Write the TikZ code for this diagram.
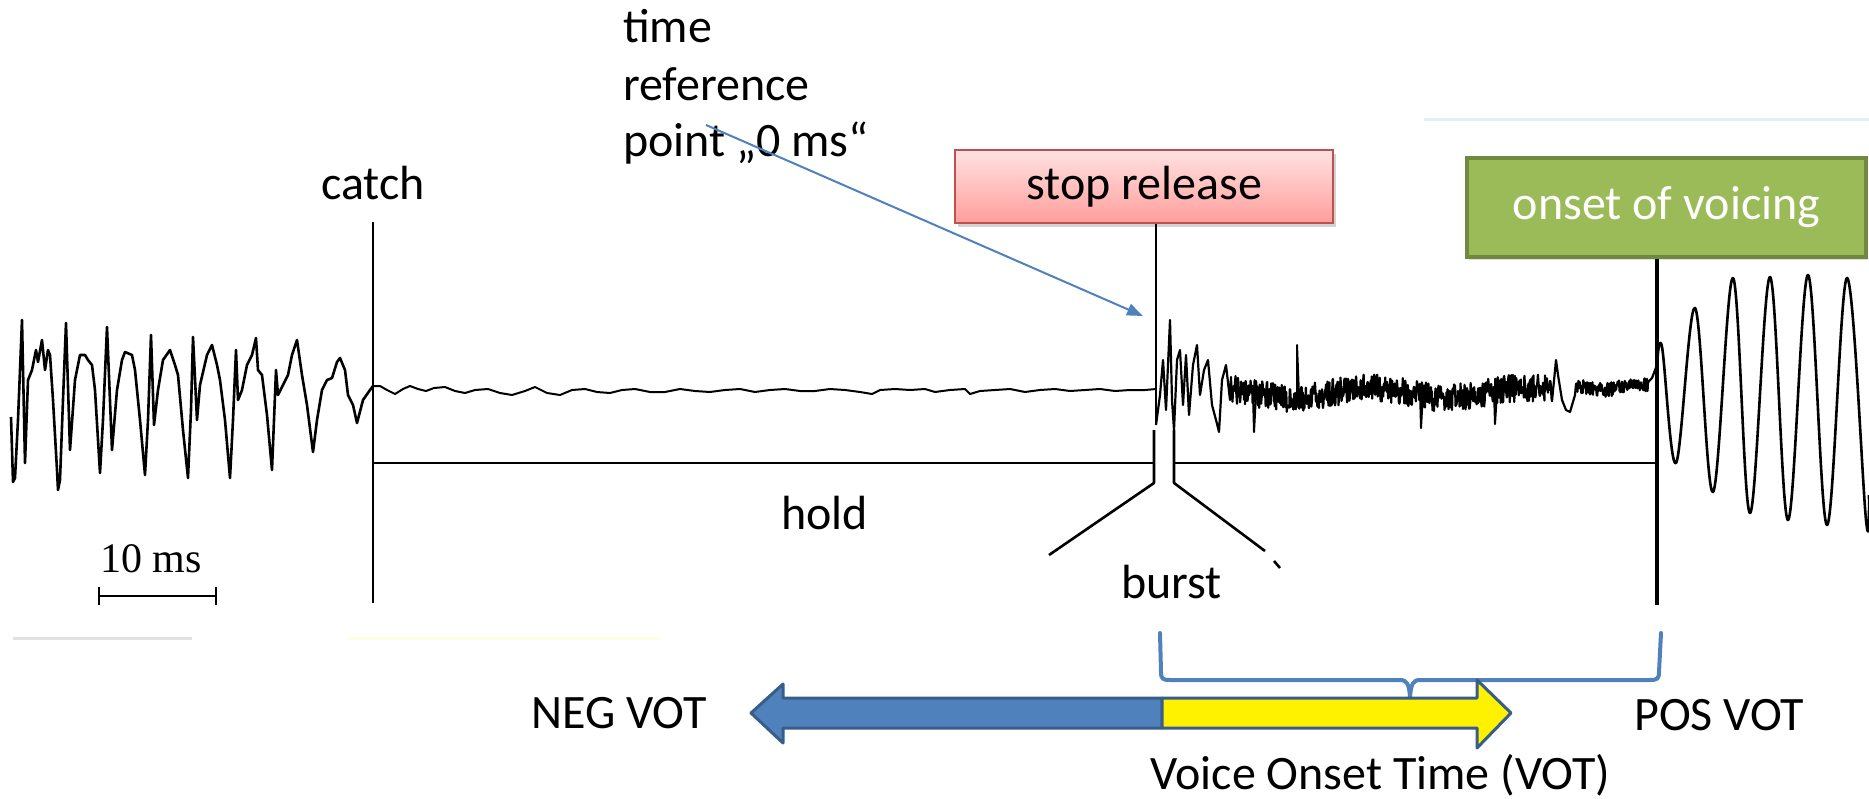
\documentclass[tikz,border=0pt]{standalone}
\usepackage{fontspec}
\setmainfont{Carlito}
\newfontfamily\tmsfont{Liberation Serif}
\usetikzlibrary{arrows.meta,shadows}
\definecolor{accblue}{RGB}{79,129,189}
\definecolor{accbluedark}{RGB}{56,93,138}
\definecolor{accred}{RGB}{192,80,77}
\definecolor{pinktop}{RGB}{255,226,225}
\definecolor{pinkbot}{RGB}{255,158,156}
\definecolor{accgreen}{RGB}{155,187,89}
\definecolor{accgreendark}{RGB}{113,137,63}
\definecolor{faintblue}{RGB}{225,240,248}
\definecolor{faintgray}{RGB}{225,225,225}
\begin{document}
\begin{tikzpicture}[x=1pt,y=-1pt,
  lbl/.style={font=\fontsize{48}{58}\selectfont, inner sep=0pt},
  wave/.style={line width=2.6pt, line join=round, black},
  markline/.style={line width=2.6pt, black},
  callout/.style={draw=accblue, line width=2pt, -{Triangle[length=16pt,width=12pt]}},
  brace/.style={draw=accblue, line width=4pt, line cap=round},
  arrowshape/.style={draw=accbluedark, line width=3pt, line join=round},
  redbox/.style={draw=accred, line width=2pt, top color=pinktop, bottom color=pinkbot,
    minimum width=378pt, minimum height=73pt, inner sep=0pt,
    font=\fontsize{48}{58}\selectfont,
    drop shadow={shadow xshift=3pt, shadow yshift=-4pt, opacity=0.35}},
  greenbox/.style={draw=accgreendark, line width=4pt, fill=accgreen, text=white,
    minimum width=399pt, minimum height=99pt, inner sep=0pt,
    font=\fontsize{48}{58}\selectfont,
    drop shadow={shadow xshift=2pt, shadow yshift=-3pt, opacity=0.25}}]
\useasboundingbox (0,0) rectangle (1869,798);

% faint scan remnants
\draw[faintblue, line width=3pt] (1424,119) -- (1869,119);
\draw[faintgray, line width=3pt] (13,638) -- (192,638);
\draw[yellow!12, line width=3pt] (348,638) -- (660,638);

% boxes
\node[redbox] (release) at (1144,186.5) {stop release};
\node[greenbox] (onset) at (1666.5,207.5) {onset of voicing};

% time reference label
\node[lbl, anchor=base west] (treftime) at (623,42) {time};
\node[lbl, anchor=base west] (trefref) at (623,100) {reference};
\node[lbl, anchor=base west] (trefpoint) at (623,156) {point „0 ms“};

% labels
\node[lbl, anchor=base west] (catch) at (321,199) {catch};
\node[lbl, anchor=base west] (hold) at (781,529) {hold};
\node[lbl, anchor=base west] (burst) at (1121,598) {burst};
\node[lbl, anchor=base west] (neg) at (531,728) {NEG VOT};
\node[lbl, anchor=base west] (pos) at (1634,730) {POS VOT};
\node[lbl, anchor=base west] (vot) at (1150,789) {Voice Onset Time (VOT)};
\node[font=\tmsfont\fontsize{42}{50}\selectfont, inner sep=0pt, anchor=base west] (scale) at (100,572) {10 ms};

% coordinates
\coordinate (catchtop) at (373,222);
\coordinate (catchbot) at (373,603);
\coordinate (relbot) at (1156,425);
\coordinate (onsetbot) at (1657,605);
\coordinate (holdL) at (373,463);
\coordinate (burstL) at (1154,463);
\coordinate (burstR) at (1174,463);
\coordinate (holdR) at (1657,463);
\coordinate (arrstart) at (706,125);
\coordinate (zeroms) at (1143,316);
\coordinate (scaleL) at (99,596);
\coordinate (scaleR) at (216,596);

% marker lines
\draw[markline] (catchtop) -- (catchbot);
\draw[markline] (release.south -| relbot) -- (relbot);
\draw[markline, line width=3.6pt] (onset.south -| onsetbot) -- (onsetbot);
\draw[markline] (holdL) -- (burstL);
\draw[markline] (burstR) -- (holdR);
\draw[markline, line join=round] (1154,430) -- (1154,483) -- (1049,555);
\draw[markline, line join=round] (1174,430) -- (1174,483) -- (1265,551);
\draw[markline] (1274,561) -- (1280,568);

% scale bar
\draw[markline] (scaleL) -- (scaleR);
\draw[markline] (99,587) -- (99,605);
\draw[markline] (216,587) -- (216,605);

% speech waveform before catch
\draw[wave] (11,417) -- (13,482) -- (15,478) -- (18,420) -- (22,320) -- (25,463) -- (28,380) -- (32,370) -- (36,350) -- (38,362) -- (42,340) -- (45,370) -- (48,350) -- (50,355) -- (53,400) -- (57,470) -- (58,490) -- (60,480) -- (63,400) -- (66,323) -- (70,450) -- (75,380) -- (80,355) -- (85,355) -- (88,360) -- (92,365) -- (95,390) -- (100,473) -- (103,420) -- (107,327) -- (112,450) -- (117,390) -- (122,360) -- (125,352) -- (132,355) -- (135,370) -- (140,420) -- (145,475) -- (148,420) -- (151,335) -- (154,425) -- (158,390) -- (163,360) -- (170,350) -- (175,365) -- (178,375) -- (183,430) -- (188,478) -- (191,410) -- (193,337) -- (197,420) -- (200,385) -- (207,355) -- (212,345) -- (217,365) -- (220,380) -- (225,420) -- (230,478) -- (233,420) -- (236,350) -- (238,400) -- (242,390) -- (247,365) -- (252,355) -- (256,338) -- (258,370) -- (262,375) -- (267,415) -- (272,470) -- (274,420) -- (276,370) -- (278,395) -- (283,385) -- (288,375) -- (292,355) -- (297,340) -- (302,375) -- (307,405) -- (313,452) -- (317,420) -- (322,390) -- (327,380) -- (332,378) -- (337,362) -- (340,358) -- (345,370) -- (348,395) -- (353,405) -- (357,423) -- (363,400) -- (370,390) -- (373,386);

% quiet hold segment
\draw[wave, line width=2pt] (373,386) -- (380,386) -- (387,390) -- (395,394) -- (403,389) -- (410,386) -- (418,389) -- (426,391) -- (434,388) -- (445,387) -- (455,391) -- (465,393) -- (475,390) -- (488,389) -- (500,393) -- (512,395) -- (525,391) -- (535,387) -- (547,393) -- (560,395) -- (572,390) -- (585,389) -- (597,392) -- (610,393) -- (622,390) -- (635,389) -- (650,392) -- (665,392) -- (680,389) -- (695,391) -- (710,392) -- (725,390) -- (740,389) -- (755,392) -- (770,390) -- (785,389) -- (800,391) -- (815,391) -- (830,389) -- (845,390) -- (860,392) -- (872,394) -- (880,390) -- (895,389) -- (910,390) -- (925,389) -- (935,392) -- (950,390) -- (965,389) -- (970,394) -- (980,391) -- (995,390) -- (1010,389) -- (1025,392) -- (1040,390) -- (1055,389) -- (1070,391) -- (1085,390) -- (1100,389) -- (1115,391) -- (1130,390) -- (1145,390) -- (1156,389);

% burst and aspiration noise
\pgfmathsetseed{4711}
\draw[wave, line width=2.2pt] (1156,425) -- (1160,395) -- (1163,360) -- (1166,410) -- (1170,320) -- (1172,400) -- (1174,430) -- (1177,360) -- (1180,350) -- (1183,405) -- (1186,355) -- (1189,415) -- (1193,365) -- (1197,345) -- (1200,395) -- (1204,370) -- (1208,360) -- (1212,405) -- (1216,420) -- (1219,432) -- (1222,380) -- (1226,365) -- (1230,400)
  -- plot[variable=\t, domain=1231:1552, samples=640] (\t, {393 + 5*sin(2.3*\t) + 14*rand})
  -- (1556,360) -- (1558,375) -- (1562,400) -- (1566,410) -- (1570,412) -- (1575,395)
  -- plot[variable=\t, domain=1576:1648, samples=150] (\t, {387 + 3*sin(5*\t) + 7*rand})
  -- (1652,378) -- (1657,365);
\draw[wave, line width=2pt] (1297,392) -- (1297,345) -- (1299,395);
\draw[wave, line width=2pt] (1420,392) -- (1421,428) -- (1423,392);
\draw[wave, line width=2pt] (1494,392) -- (1495,424) -- (1497,392);
\draw[wave, line width=2pt] (1253,395) -- (1254,432) -- (1256,395);

% voicing
\draw[wave] plot[smooth, tension=0.6] coordinates {(1657,365) (1662,347) (1676,463) (1695,308) (1713,492) (1733,278) (1750,513) (1770,277) (1788,520) (1808,275) (1827,525) (1847,278) (1866,520) (1869,495)};

% time reference arrow
\draw[callout] (arrstart) -- (zeroms);

% brace
\draw[brace] (1160,633) -- (1161,672) .. controls (1161,679) and (1163,680) .. (1170,680) -- (1400,680) .. controls (1407,680) and (1409,684) .. (1410,697) .. controls (1411,684) and (1413,680) .. (1420,680) -- (1650,680) .. controls (1657,680) and (1659,679) .. (1659,672) -- (1661,633);

% VOT double arrow
\draw[arrowshape, fill=accblue] (1162,698) -- (783,698) -- (783,684) -- (751,713) -- (783,743) -- (783,728) -- (1162,728) -- cycle;
\draw[arrowshape, fill=yellow] (1162,698) -- (1477,698) -- (1477,680) -- (1511,713) -- (1477,748) -- (1477,728) -- (1162,728) -- cycle;

\end{tikzpicture}
\end{document}
